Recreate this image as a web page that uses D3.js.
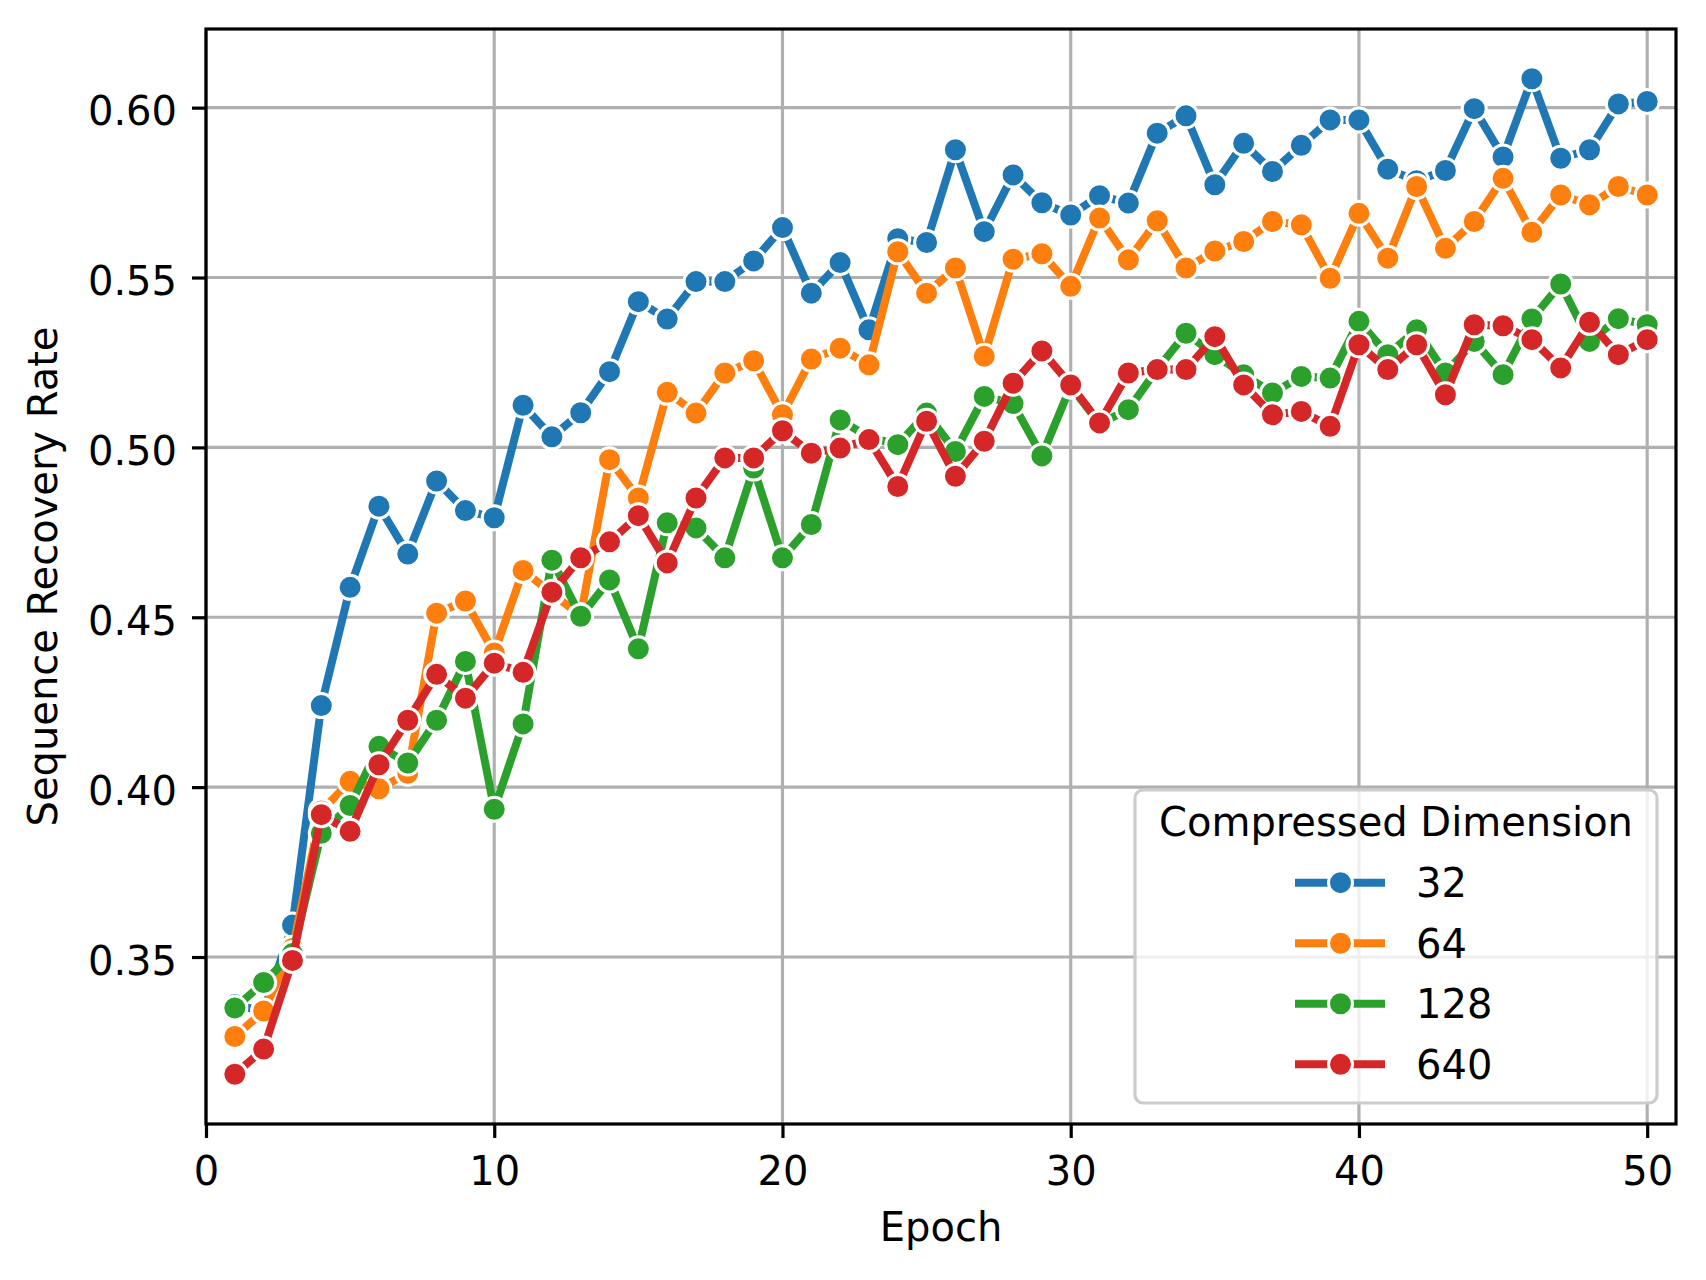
<!DOCTYPE html>
<html>
<head>
<meta charset="utf-8">
<script src="https://cdn.jsdelivr.net/npm/d3@7"></script>
<style>
  html, body { margin: 0; padding: 0; background: #ffffff; }
  svg { display: block; font-family: "DejaVu Sans", sans-serif; }
</style>
</head>
<body>
<svg id="chart" width="1706" height="1280"></svg>
<script>
// ---------------- DATA ----------------
const epochs = [1,2,3,4,5,6,7,8,9,10,11,12,13,14,15,16,17,18,19,20,
                21,22,23,24,25,26,27,28,29,30,31,32,33,34,35,36,37,38,39,40,
                41,42,43,44,45,46,47,48,49,50];

const dimensions = ["32", "64", "128", "640"];
const seriesColors = ["#1f77b4", "#ff7f0e", "#2ca02c", "#d62728"];

const rate32 = [0.336, 0.334, 0.3594, 0.424, 0.4588, 0.4827, 0.4686, 0.4901, 0.4814, 0.4793,
                0.5124, 0.5031, 0.5102, 0.5223, 0.5429, 0.5378, 0.5488, 0.5488, 0.5549, 0.5647,
                0.5454, 0.5544, 0.5346, 0.5614, 0.5603, 0.5876, 0.5635, 0.5802, 0.5720, 0.5684,
                0.5741, 0.5719, 0.5925, 0.5976, 0.5773, 0.5895, 0.5812, 0.5889, 0.5964, 0.5964,
                0.5819, 0.5785, 0.5815, 0.5997, 0.5855, 0.6085, 0.5851, 0.5876, 0.6011, 0.6018];

const rate64 = [0.3266, 0.3341, 0.3525, 0.3930, 0.4017, 0.3995, 0.4041, 0.4512, 0.4548, 0.4395,
                0.4638, 0.4570, 0.4505, 0.4964, 0.4851, 0.5162, 0.5101, 0.5219, 0.5255, 0.5096,
                0.5260, 0.5292, 0.5243, 0.5576, 0.5454, 0.5528, 0.5268, 0.5554, 0.5570, 0.5474,
                0.5675, 0.5552, 0.5667, 0.5528, 0.5578, 0.5606, 0.5665, 0.5655, 0.5498, 0.5689,
                0.5557, 0.5768, 0.5586, 0.5665, 0.5792, 0.5633, 0.5743, 0.5714, 0.5768, 0.5743];

const rate128 = [0.3350, 0.3425, 0.3510, 0.3864, 0.3946, 0.4120, 0.4071, 0.4197, 0.4370, 0.3935,
                 0.4186, 0.4668, 0.4503, 0.4610, 0.4407, 0.4778, 0.4763, 0.4675, 0.4939, 0.4675,
                 0.4773, 0.5081, 0.5030, 0.5008, 0.5101, 0.4988, 0.5150, 0.5129, 0.4975, 0.5180,
                 0.5070, 0.5111, 0.5230, 0.5336, 0.5273, 0.5214, 0.5160, 0.5209, 0.5204, 0.5371,
                 0.5273, 0.5346, 0.5219, 0.5312, 0.5214, 0.5378, 0.5481, 0.5312, 0.5379, 0.5361];

const rate640 = [0.3155, 0.3229, 0.3490, 0.3919, 0.3870, 0.4066, 0.4197, 0.4332, 0.4262, 0.4365,
                 0.4338, 0.4574, 0.4675, 0.4722, 0.4799, 0.4660, 0.4851, 0.4969, 0.4969, 0.5049,
                 0.4983, 0.4998, 0.5023, 0.4885, 0.5077, 0.4915, 0.5018, 0.5189, 0.5284, 0.5184,
                 0.5072, 0.5219, 0.5229, 0.5229, 0.5326, 0.5184, 0.5096, 0.5106, 0.5062, 0.5302,
                 0.5229, 0.5302, 0.5155, 0.5361, 0.5358, 0.5317, 0.5234, 0.5368, 0.5273, 0.5317];

const xTicks = [0, 10, 20, 30, 40, 50];
const yTicks = [0.35, 0.40, 0.45, 0.50, 0.55, 0.60];
const xDomain = [0, 51];

const xLabel = "Epoch";
const yLabel = "Sequence Recovery Rate";
const legendTitle = "Compressed Dimension";

// ---------------- LAYOUT ----------------
const plot = { left: 206, right: 1676, top: 29, bottom: 1124 };
const FONT = 40;
const LW = 8;

const seriesValues = [rate32, rate64, rate128, rate640];
const series = dimensions.map((d, i) => ({
  name: d,
  color: seriesColors[i],
  points: epochs.map((e, j) => ({ epoch: e, value: seriesValues[i][j] }))
}));

const allVals = seriesValues.flat();
const vMin = d3.min(allVals), vMax = d3.max(allVals);
const vPad = (vMax - vMin) * 0.05;

const x = d3.scaleLinear().domain(xDomain).range([plot.left, plot.right]);
const y = d3.scaleLinear().domain([vMin - vPad, vMax + vPad]).range([plot.bottom, plot.top]);

const svg = d3.select("#chart");
svg.append("rect").attr("width", 1706).attr("height", 1280).attr("fill", "#ffffff");

// Grid
const grid = svg.append("g");
grid.selectAll("line.vx").data(xTicks).join("line")
  .attr("x1", d => x(d)).attr("x2", d => x(d))
  .attr("y1", plot.top).attr("y2", plot.bottom)
  .attr("stroke", "#b0b0b0").attr("stroke-width", 3.2);
grid.selectAll("line.hy").data(yTicks).join("line")
  .attr("x1", plot.left).attr("x2", plot.right)
  .attr("y1", d => y(d)).attr("y2", d => y(d))
  .attr("stroke", "#b0b0b0").attr("stroke-width", 3.2);

// Series
const lineGen = d3.line().x(d => x(d.epoch)).y(d => y(d.value));
series.forEach(s => {
  const g = svg.append("g");
  g.append("path").datum(s.points)
    .attr("d", lineGen)
    .attr("fill", "none")
    .attr("stroke", s.color)
    .attr("stroke-width", LW)
    .attr("stroke-linejoin", "round")
    .attr("stroke-linecap", "butt");
  g.selectAll("circle").data(s.points).join("circle")
    .attr("cx", d => x(d.epoch)).attr("cy", d => y(d.value))
    .attr("r", 12)
    .attr("fill", s.color)
    .attr("stroke", "#ffffff")
    .attr("stroke-width", 3);
});

// Axes
const xAxis = d3.axisBottom(x).tickValues(xTicks).tickSize(14).tickFormat(d3.format("d"));
const gx = svg.append("g").attr("transform", `translate(0,${plot.bottom})`).call(xAxis);
gx.select(".domain").remove();
gx.selectAll(".tick line").attr("stroke", "#000").attr("stroke-width", 3.2);
gx.selectAll(".tick text")
  .attr("y", 61).attr("dy", 0)
  .attr("font-size", FONT).attr("font-family", "DejaVu Sans").attr("fill", "#000");

const yAxis = d3.axisLeft(y).tickValues(yTicks).tickSize(14).tickFormat(d3.format(".2f"));
const gy = svg.append("g").attr("transform", `translate(${plot.left},0)`).call(yAxis);
gy.select(".domain").remove();
gy.selectAll(".tick line").attr("stroke", "#000").attr("stroke-width", 3.2);
gy.selectAll(".tick text")
  .attr("x", -29).attr("dy", "0.43em")
  .attr("font-size", FONT).attr("font-family", "DejaVu Sans").attr("fill", "#000");

// Frame (spines)
svg.append("rect")
  .attr("x", plot.left).attr("y", plot.top)
  .attr("width", plot.right - plot.left).attr("height", plot.bottom - plot.top)
  .attr("fill", "none").attr("stroke", "#000").attr("stroke-width", 3.2);

// Axis labels
svg.append("text")
  .attr("x", (plot.left + plot.right) / 2).attr("y", 1241)
  .attr("text-anchor", "middle")
  .attr("font-size", FONT).attr("fill", "#000")
  .text(xLabel);

svg.append("text")
  .attr("transform", `translate(57,${(plot.top + plot.bottom) / 2}) rotate(-90)`)
  .attr("text-anchor", "middle")
  .attr("font-size", FONT).attr("fill", "#000")
  .text(yLabel);

// Legend
const leg = { x: 1135, y: 790, w: 522, h: 313 };
const lg = svg.append("g");
lg.append("rect")
  .attr("x", leg.x).attr("y", leg.y).attr("width", leg.w).attr("height", leg.h)
  .attr("rx", 8).attr("ry", 8)
  .attr("fill", "#ffffff").attr("fill-opacity", 0.8)
  .attr("stroke", "#cccccc").attr("stroke-width", 3.2);
lg.append("text")
  .attr("x", leg.x + leg.w / 2).attr("y", 836)
  .attr("text-anchor", "middle")
  .attr("font-size", FONT).attr("fill", "#000")
  .text(legendTitle);

const rowY = d3.scalePoint().domain(dimensions).range([882.7, 1064.3]);
series.forEach(s => {
  const cy = rowY(s.name);
  lg.append("line")
    .attr("x1", 1295).attr("x2", 1385).attr("y1", cy).attr("y2", cy)
    .attr("stroke", s.color).attr("stroke-width", LW);
  lg.append("circle")
    .attr("cx", 1340.5).attr("cy", cy).attr("r", 12)
    .attr("fill", s.color).attr("stroke", "#ffffff").attr("stroke-width", 3);
  lg.append("text")
    .attr("x", 1416).attr("y", cy + 14.5)
    .attr("font-size", FONT).attr("fill", "#000")
    .text(s.name);
});
</script>
</body>
</html>
